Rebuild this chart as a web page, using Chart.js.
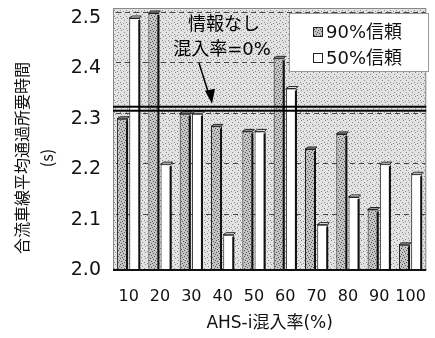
<!DOCTYPE html>
<html>
<head>
<meta charset="utf-8">
<script src="https://cdn.jsdelivr.net/npm/chart.js@4.4.1/dist/chart.umd.min.js"></script>
<style>
  html, body { margin: 0; padding: 0; background: #fff; }
  canvas { display: block; }
</style>
</head>
<body>
<canvas id="c" width="435" height="338"></canvas>
<script>
const rates = ['10', '20', '30', '40', '50', '60', '70', '80', '90', '100'];
const conf90 = [2.30, 2.51, 2.31, 2.285, 2.275, 2.42, 2.24, 2.27, 2.12, 2.05];
const conf50 = [2.50, 2.21, 2.31, 2.07, 2.275, 2.36, 2.09, 2.145, 2.21, 2.19];
const seriesNames = ['90%信頼', '50%信頼'];
const noInfoValue = 2.32;
const noInfoText = ['情報なし', '混入率=0%'];
const yTitle = ['合流車線平均通過所要時間', '(s)'];

const JP = '"DejaVu Sans", "Noto Sans CJK JP", sans-serif';
const DEPTH = 6; // back wall sits this far above the bar fronts

// small dotted tile used for the shaded surfaces
function dotPattern(base, dot, seed) {
  const t = document.createElement('canvas');
  t.width = 6; t.height = 6;
  const g = t.getContext('2d');
  g.fillStyle = base;
  g.fillRect(0, 0, 6, 6);
  g.fillStyle = dot;
  const pts = seed ? [[0,0],[3,1],[1,3],[4,4],[5,2],[2,5]] : [[1,0],[4,2],[0,4],[3,5]];
  pts.forEach(p => g.fillRect(p[0], p[1], 1, 1));
  return g.createPattern(t, 'repeat');
}

const ctx = document.getElementById('c').getContext('2d');
const wallFill = dotPattern('#e2e2e2', '#8a8a8a', false);
const barFill = dotPattern('#c4c4c4', '#555', true);

// stippled back wall with dashed grid lines set back by DEPTH
const wallPlugin = {
  id: 'wall',
  beforeDatasetsDraw(chart) {
    const a = chart.chartArea, c = chart.ctx, y = chart.scales.y;
    const top = a.top - DEPTH - 4;
    c.save();
    c.fillStyle = wallFill;
    c.fillRect(a.left, top, a.right - a.left, a.bottom - top);
    c.strokeStyle = '#888';
    c.lineWidth = 1;
    c.strokeRect(a.left + 0.5, top + 0.5, a.right - a.left - 1, a.bottom - top - 1);
    c.strokeStyle = '#444';
    c.setLineDash([5, 4]);
    y.ticks.forEach(t => {
      if (t.value <= y.min) return;
      const py = Math.round(y.getPixelForValue(t.value) - DEPTH) + 0.5;
      c.beginPath();
      c.moveTo(a.left + 3, py);
      c.lineTo(a.right - 1, py);
      c.stroke();
    });
    c.restore();
  }
};

// side shade and top cap for each bar
const barDepthPlugin = {
  id: 'barDepth',
  afterDatasetsDraw(chart) {
    const c = chart.ctx, bottom = chart.chartArea.bottom;
    c.save();
    chart.data.datasets.forEach((ds, i) => {
      chart.getDatasetMeta(i).data.forEach(bar => {
        const left = bar.x - bar.width / 2, right = bar.x + bar.width / 2;
        c.fillStyle = '#111';
        c.fillRect(right - 2, bar.y + 2, 2, bottom - bar.y - 2);
        c.beginPath();
        c.moveTo(left, bar.y);
        c.lineTo(left + 3, bar.y - 2);
        c.lineTo(right + 1, bar.y - 2);
        c.lineTo(right - 1, bar.y);
        c.closePath();
        c.fillStyle = i === 0 ? '#999' : '#eee';
        c.fill();
        c.strokeStyle = '#222';
        c.lineWidth = 1;
        c.stroke();
      });
    });
    c.fillStyle = '#111';
    c.fillRect(chart.chartArea.left, bottom - 1, chart.chartArea.right - chart.chartArea.left, 2);
    c.restore();
  }
};

const noInfoPlugin = {
  id: 'noInfo',
  afterDatasetsDraw(chart) {
    const a = chart.chartArea, c = chart.ctx;
    const y = chart.scales.y.getPixelForValue(noInfoValue);
    c.save();
    c.fillStyle = '#000';
    c.fillRect(a.left, y - 3, a.right - a.left, 2);
    c.fillRect(a.left, y + 1, a.right - a.left, 2);
    c.font = '18px ' + JP;
    c.textAlign = 'center';
    c.textBaseline = 'middle';
    c.fillText(noInfoText[0], 224, 25);
    c.fillText(noInfoText[1], 222, 50);
    // arrow pointing at the line
    c.strokeStyle = '#000';
    c.lineWidth = 1.5;
    c.beginPath();
    c.moveTo(199, 63);
    c.lineTo(209, y - 14);
    c.stroke();
    c.beginPath();
    c.moveTo(212, y - 5);
    c.lineTo(205, y - 18);
    c.lineTo(215, y - 20);
    c.closePath();
    c.fill();
    c.restore();
  }
};

const legendPlugin = {
  id: 'boxLegend',
  afterDraw(chart) {
    const c = chart.ctx;
    c.save();
    c.fillStyle = '#fff';
    c.fillRect(289, 13, 140, 59);
    c.strokeStyle = '#999';
    c.lineWidth = 1;
    c.strokeRect(289.5, 13.5, 139, 58);
    c.font = '18px ' + JP;
    c.textBaseline = 'middle';
    chart.data.datasets.forEach((ds, i) => {
      const y = 32 + i * 26;
      c.fillStyle = ds.backgroundColor;
      c.fillRect(313, y - 5, 10, 10);
      c.strokeStyle = '#222';
      c.strokeRect(313.5, y - 4.5, 9, 9);
      c.fillStyle = '#111';
      c.fillText(ds.label, 326, y + 1);
    });
    c.restore();
  }
};

// vertical axis title, two rotated lines
const yTitlePlugin = {
  id: 'yTitle',
  afterDraw(chart) {
    const c = chart.ctx;
    c.save();
    c.fillStyle = '#111';
    c.font = '16px "Noto Sans CJK JP", sans-serif';
    c.textAlign = 'center';
    c.textBaseline = 'middle';
    c.translate(22, 158);
    c.rotate(-Math.PI / 2);
    c.fillText(yTitle[0], 0, 0);
    c.fillText(yTitle[1], 0, 25);
    c.restore();
  }
};

// tall bars may poke slightly above the top of the scale
const barClip = { left: 0, top: false, right: 0, bottom: 0 };

new Chart(ctx, {
  type: 'bar',
  data: {
    labels: rates,
    datasets: [
      { label: seriesNames[0], data: conf90, backgroundColor: barFill, borderColor: '#222', borderWidth: 1, base: 2.0, clip: barClip },
      { label: seriesNames[1], data: conf50, backgroundColor: '#ffffff', borderColor: '#222', borderWidth: 1, base: 2.0, clip: barClip }
    ]
  },
  options: {
    responsive: false,
    animation: false,
    layout: { padding: { top: 18, right: 3, left: 0, bottom: 0 } },
    datasets: { bar: { categoryPercentage: 0.78, barPercentage: 0.9 } },
    plugins: { legend: { display: false }, tooltip: { enabled: false } },
    scales: {
      y: {
        min: 2.0,
        max: 2.5,
        border: { display: false },
        grid: { display: false },
        ticks: {
          stepSize: 0.1,
          color: '#111',
          padding: 4,
          font: { family: 'DejaVu Sans', size: 19 },
          callback: v => v.toFixed(1)
        },
        afterFit(scale) { scale.width = 113; }
      },
      x: {
        border: { display: false },
        grid: { display: false },
        ticks: {
          color: '#111', padding: 9, maxRotation: 0, autoSkip: false,
          font: { family: 'DejaVu Sans', size: 16 }
        },
        title: {
          display: true,
          text: 'AHS-i混入率(%)',
          color: '#111',
          font: { family: JP, size: 17 },
          padding: { top: 6 }
        },
        afterFit(scale) { scale.height = 68; }
      }
    }
  },
  plugins: [wallPlugin, barDepthPlugin, noInfoPlugin, legendPlugin, yTitlePlugin]
});
</script>
</body>
</html>
